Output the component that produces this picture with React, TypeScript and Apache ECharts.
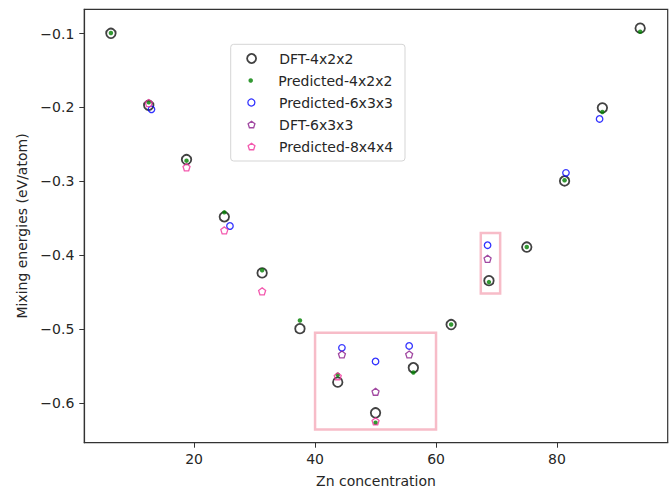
import React, { useEffect, useRef } from "react";
import * as echarts from "echarts";

const xTicks = [20, 40, 60, 80];
const yTicks = [-0.6, -0.5, -0.4, -0.3, -0.2, -0.1];

const x4 = [6.25, 12.5, 18.75, 25, 31.25, 37.5, 43.75, 50, 56.25, 62.5, 68.75, 75, 81.25, 87.5, 93.75];
const dft4 = [-0.0995, -0.197, -0.2705, -0.348, -0.424, -0.4995, -0.572, -0.6135, -0.5525, -0.494, -0.4345, -0.389, -0.2995, -0.2005, -0.0925];
const pred4 = [-0.099, -0.193, -0.272, -0.342, -0.4205, -0.4885, -0.562, -0.627, -0.559, -0.494, -0.4365, -0.389, -0.2985, -0.206, -0.0975];

const x6 = [12.96, 25.93, 44.44, 50, 55.56, 68.52, 81.48, 87.04];
const pred6 = [-0.2025, -0.3605, -0.5255, -0.544, -0.523, -0.3865, -0.2885, -0.2155];

const x6dft = [44.44, 50, 55.56, 68.52];
const dft6 = [-0.5345, -0.585, -0.5345, -0.405];

const x8 = [12.5, 18.75, 25, 31.25, 43.75, 50];
const pred8 = [-0.194, -0.281, -0.3665, -0.449, -0.564, -0.625];

const boxes = [
  [[40, -0.505], [60, -0.636]],
  [[67.4, -0.37], [70.6, -0.452]],
];

const names = ["DFT-4x2x2", "Predicted-4x2x2", "Predicted-6x3x3", "DFT-6x3x3", "Predicted-8x4x4"];

const PENT = "path://M0,-1L0.951,-0.309L0.588,0.809L-0.588,0.809L-0.951,-0.309Z";
const FONT = "DejaVu Sans";

const zip = (xs: number[], ys: number[]) => xs.map((x, i) => [x, ys[i]]);

export default function App() {
  const ref = useRef<HTMLDivElement>(null);
  useEffect(() => {
    document.body.style.margin = "0";
    const chart = echarts.init(ref.current!, null, { renderer: "svg" });
    const fmtY = (v: number) => (v < 0 ? "\u2212" : "") + Math.abs(v).toFixed(1);
    const rows = [58.5, 80.5, 102.5, 124.5, 146.5];
    const iconH = [9, 4.5, 7, 6.5, 6.5];
    const iconBW = [1.8, 0, 1.3, 1.3, 1.3];
    const iconCx = 250.7;
    const legends = names.map((n, i) => ({
      data: [n],
      left: iconCx - iconH[i] / 2,
      top: rows[i] - 8,
      padding: 0,
      itemWidth: 45.2,
      itemHeight: iconH[i],
      selectedMode: false,
      symbolKeepAspect: true,
      itemStyle: { borderWidth: iconBW[i] },
      textStyle: { fontFamily: FONT, fontSize: 14, color: "#262626", lineHeight: 16 },
    }));
    chart.setOption({
      animation: false,
      backgroundColor: "#fff",
      grid: {
        left: 84.3,
        right: 4.3,
        top: 9.3,
        bottom: 45.3,
        outerBoundsMode: "none",
        containLabel: false,
        show: true,
        borderColor: "#333",
        borderWidth: 1.2,
        backgroundColor: "transparent",
      },
      legend: legends,
      graphic: [
        {
          type: "rect",
          shape: { x: 230.7, y: 44.3, width: 174.3, height: 116.7, r: 3 },
          style: { fill: "rgba(255,255,255,0.8)", stroke: "#d5d5d5", lineWidth: 1 },
          z: 0,
        },
      ],
      xAxis: {
        type: "value",
        min: 1.85,
        max: 98.3,
        name: "Zn concentration",
        nameLocation: "middle",
        nameGap: 31,
        nameTextStyle: { fontFamily: FONT, fontSize: 14, lineHeight: 14, color: "#262626" },
        axisLine: { show: true, lineStyle: { color: "#333", width: 1.2 } },
        axisTick: { show: true, customValues: xTicks, length: 5, lineStyle: { color: "#333", width: 1 } },
        axisLabel: { customValues: xTicks, margin: 9, fontFamily: FONT, fontSize: 14, color: "#262626" },
        splitLine: { show: false },
      },
      yAxis: {
        type: "value",
        min: -0.654,
        max: -0.067,
        name: "Mixing energies (eV/atom)",
        nameLocation: "middle",
        nameGap: 38,
        nameTextStyle: { fontFamily: FONT, fontSize: 14, color: "#262626" },
        axisLine: { show: true, lineStyle: { color: "#333", width: 1.2 } },
        axisTick: { show: true, customValues: yTicks, length: 5, lineStyle: { color: "#333", width: 1 } },
        axisLabel: { customValues: yTicks, margin: 10, fontFamily: FONT, fontSize: 14, color: "#262626", formatter: fmtY },
        splitLine: { show: false },
      },
      series: [
        {
          name: names[0],
          type: "scatter",
          data: zip(x4, dft4),
          symbol: "circle",
          symbolSize: 9.5,
          itemStyle: { color: "transparent", borderColor: "#111", borderWidth: 1.8 },
          markArea: {
            silent: true,
            itemStyle: { color: "transparent", borderColor: "#f7bcc8", borderWidth: 2.5 },
            data: boxes.map((b) => [{ coord: b[0] }, { coord: b[1] }]),
          },
        },
        {
          name: names[1],
          type: "scatter",
          data: zip(x4, pred4),
          symbol: "circle",
          symbolSize: 4.5,
          itemStyle: { color: "#008000" },
        },
        {
          name: names[2],
          type: "scatter",
          data: zip(x6, pred6),
          symbol: "circle",
          symbolSize: 6.5,
          itemStyle: { color: "transparent", borderColor: "#0000ff", borderWidth: 1.3 },
        },
        {
          name: names[3],
          type: "scatter",
          data: zip(x6dft, dft6),
          symbol: PENT,
          symbolSize: 7,
          itemStyle: { color: "transparent", borderColor: "#8a1a8a", borderWidth: 1.3 },
        },
        {
          name: names[4],
          type: "scatter",
          data: zip(x8, pred8),
          symbol: PENT,
          symbolSize: 7,
          itemStyle: { color: "transparent", borderColor: "#f0309a", borderWidth: 1.3 },
        },
      ],
    });
    return () => chart.dispose();
  }, []);
  return <div ref={ref} style={{ width: 672, height: 488 }} />;
}
